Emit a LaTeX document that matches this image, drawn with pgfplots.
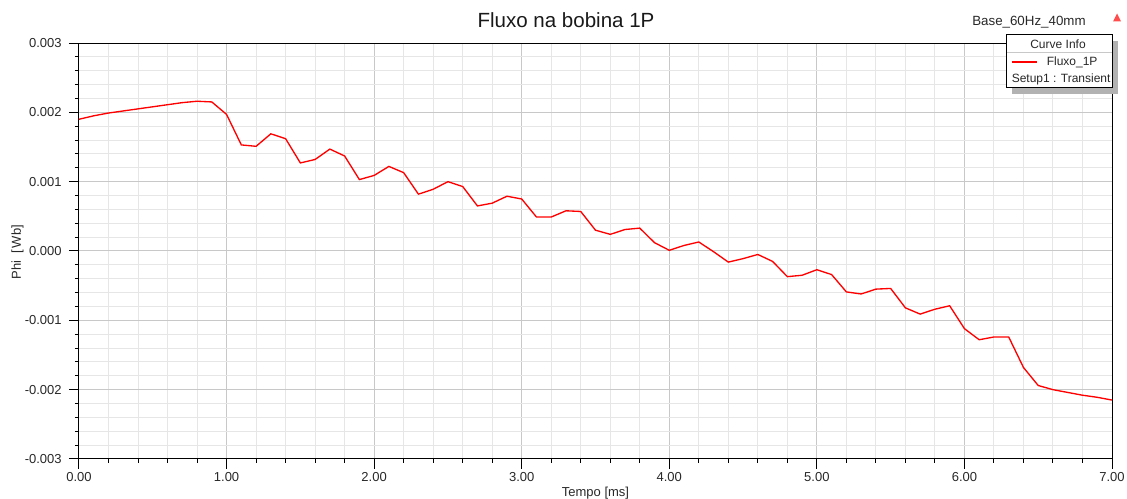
\documentclass[border=0pt]{standalone}
\usepackage{fontspec}
\setmainfont{Liberation Sans}
\usepackage{pgfplots}
\pgfplotsset{compat=1.18}

\definecolor{majgrid}{RGB}{200,200,200}
\definecolor{mingrid}{RGB}{230,230,230}
\definecolor{shadowgray}{RGB}{178,178,178}
\definecolor{labeltext}{RGB}{40,40,40}

\begin{document}
\begin{tikzpicture}
% page = 1127 x 499 px at 0.75pt per px, axis box at (79..1112, 43..459)
\path[use as bounding box] (-59.25pt,-30pt) rectangle (786pt,344.25pt);
\begin{axis}[
  at={(0,0)}, anchor=south west,
  width=774.75pt, height=312pt, scale only axis,
  xmin=0, xmax=7, ymin=-0.003, ymax=0.003,
  xtick={0,1,2,3,4,5,6,7},
  xticklabels={0.00,1.00,2.00,3.00,4.00,5.00,6.00,7.00},
  ytick={-0.003,-0.002,-0.001,0,0.001,0.002,0.003},
  yticklabels={-0.003,-0.002,-0.001,0.000,0.001,0.002,0.003},
  scaled x ticks=false, scaled y ticks=false,
  minor x tick num=4, minor y tick num=4,
  grid=both,
  major grid style={majgrid, line width=0.75pt},
  minor grid style={mingrid, line width=0.75pt},
  tick align=outside, tick pos=left,
  major tick length=7.5pt, minor tick length=3pt,
  every tick/.style={black, line width=0.75pt},
  axis line style={black, line width=0.75pt},
  ticklabel style={font=\fontsize{9.75}{11}\selectfont, text=labeltext},
  xticklabel style={anchor=base, yshift=-9.4pt},
  yticklabel style={anchor=east, xshift=-2pt},
  xlabel={Tempo [ms]}, ylabel={Phi\enspace[\,Wb]},
  label style={font=\fontsize{9.75}{11}\selectfont, text=labeltext},
  xlabel style={at={(axis description cs:0.5,-0.0901)}, anchor=base},
  ylabel style={at={(axis description cs:-0.0595,0.4976)}, anchor=center},
]
% Fluxo_1P, Setup1 : Transient
\addplot[red, line width=1pt] table {
  0.0  0.00190
  0.1  0.00195
  0.2  0.00199
  0.3  0.00202
  0.4  0.00205
  0.5  0.00208
  0.6  0.00211
  0.7  0.00214
  0.8  0.00216
  0.9  0.00215
  1.0  0.00197
  1.1  0.00153
  1.2  0.00151
  1.3  0.00169
  1.4  0.00162
  1.5  0.00127
  1.6  0.00132
  1.7  0.00147
  1.8  0.00137
  1.9  0.00103
  2.0  0.00109
  2.1  0.00122
  2.2  0.00113
  2.3  0.00082
  2.4  0.00089
  2.5  0.00100
  2.6  0.00093
  2.7  0.00065
  2.8  0.00069
  2.9  0.00079
  3.0  0.00075
  3.1  0.00049
  3.2  0.00049
  3.3  0.00058
  3.4  0.00057
  3.5  0.00030
  3.6  0.00024
  3.7  0.00031
  3.8  0.00033
  3.9  0.00012
  4.0  0.00001
  4.1  0.00008
  4.2  0.00013
  4.3 -0.00001
  4.4 -0.00016
  4.5 -0.00011
  4.6 -0.00005
  4.7 -0.00015
  4.8 -0.00037
  4.9 -0.00035
  5.0 -0.00027
  5.1 -0.00034
  5.2 -0.00059
  5.3 -0.00062
  5.4 -0.00055
  5.5 -0.00054
  5.6 -0.00082
  5.7 -0.00091
  5.8 -0.00084
  5.9 -0.00079
  6.0 -0.00112
  6.1 -0.00128
  6.2 -0.00124
  6.3 -0.00124
  6.4 -0.00168
  6.5 -0.00194
  6.6 -0.00200
  6.7 -0.00204
  6.8 -0.00208
  6.9 -0.00211
  7.0 -0.00215
};
\end{axis}

% decorations in image pixel coordinates (y downwards)
\begin{scope}[x=0.75pt, y=-0.75pt, shift={(-59.25pt,344.25pt)}]
  \node[anchor=base, inner sep=0, font=\fontsize{15.4}{18}\selectfont, text=black!90]
    at (566,28) {Fluxo na bobina 1P};
  \node[anchor=base west, inner sep=0, font=\fontsize{10}{12}\selectfont, text=labeltext]
    at (972,26) {Base\_60Hz\_40mm};
  \fill[red!70!white] (1113,21.5) -- (1117,13.5) -- (1121,21.5) -- cycle;
  % Curve Info box
  \fill[shadowgray] (1012,41) rectangle (1118,94);
  \draw[fill=white, line width=0.75pt] (1006.5,35) rectangle (1112.5,88);
  \draw[majgrid, line width=0.75pt] (1007,53) -- (1112,53);
  \begin{scope}[font=\fontsize{9}{11}\selectfont, text=labeltext]
    \node[anchor=base, inner sep=0] at (1058,48.7) {Curve Info};
    \draw[red, line width=1.5pt] (1011.5,62.3) -- (1036.5,62.3);
    \node[anchor=base west, inner sep=0] at (1046.5,65.7) {Fluxo\_1P};
    \node[anchor=base west, inner sep=0] at (1011.5,82.3) {Setup1 : Transient};
  \end{scope}
\end{scope}
\end{tikzpicture}
\end{document}
